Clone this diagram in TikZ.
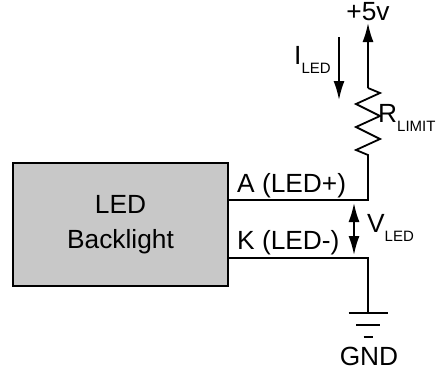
\documentclass[tikz,border=0pt]{standalone}
\usepackage{fontspec}
\setmainfont{Liberation Sans}
\usetikzlibrary{arrows.meta, calc}
\definecolor{boxgray}{RGB}{200,200,200}
\newcommand{\lowsub}[1]{\raisebox{-9pt}{\fontsize{15}{16}\selectfont #1}}
\tikzset{
    >={Latex[length=19pt,width=11pt]},
    wire/.style={line width=1.8pt},
    txt/.style={inner sep=0pt, font=\fontsize{26.3}{35}\selectfont},
    backlight/.style={txt, draw, line width=2pt, fill=boxgray, minimum width=215pt,
        minimum height=123pt, align=center},
}

\begin{document}
\begin{tikzpicture}[x=1pt, y=-1pt]
    \useasboundingbox (0,0) rectangle (436,370);
    \node[backlight] (bl) at (120.5,224.5) {LED\\Backlight};
    \coordinate (anode) at (368,200);
    \coordinate (cathode) at (368,258);
    \coordinate (rbot) at (368,155);
    \coordinate (rtop) at (368,88);
    \coordinate (vcc) at (368,23);
    \coordinate (gnd) at (368,313);
    % resistor and supply
    \draw[wire] (bl.east |- anode) -- (anode) -- (rbot) -- (356,150) -- (380,139)
        -- (356,127) -- (380,116) -- (356,104) -- (380,93) -- (rtop);
    \draw[wire, ->] (rtop) -- (vcc);
    \node[txt, anchor=base] (vcclbl) at (368,20.5) {+5v};
    % ground
    \draw[wire] (bl.east |- cathode) -- (cathode) -- (gnd);
    \foreach \w/\dy in {19.5/0, 12/12, 4.5/24}
        \draw[wire] ($(gnd)+(-\w,\dy)$) -- ($(gnd)+(\w,\dy)$);
    \node[txt, anchor=base] (gndlbl) at (369,365) {GND};
    % current and voltage
    \coordinate (ia) at (339,37);
    \coordinate (ib) at (339,100);
    \draw[wire, ->] (ia) -- (ib);
    \coordinate (va) at (354,203);
    \coordinate (vb) at (354,255);
    \draw[wire, <->] (va) -- (vb);
    \node[txt, anchor=base west] (ilbl) at (294,64) {I\lowsub{LED}};
    \node[txt, anchor=base west] (rlbl) at (378,122) {R\lowsub{LIMIT}};
    \node[txt, anchor=base west] (vlbl) at (367,232) {V\lowsub{LED}};
    \node[txt, anchor=base west] (albl) at (237,192) {A (LED+)};
    \node[txt, anchor=base west] (klbl) at (237,249) {K (LED-)};
\end{tikzpicture}
\end{document}
